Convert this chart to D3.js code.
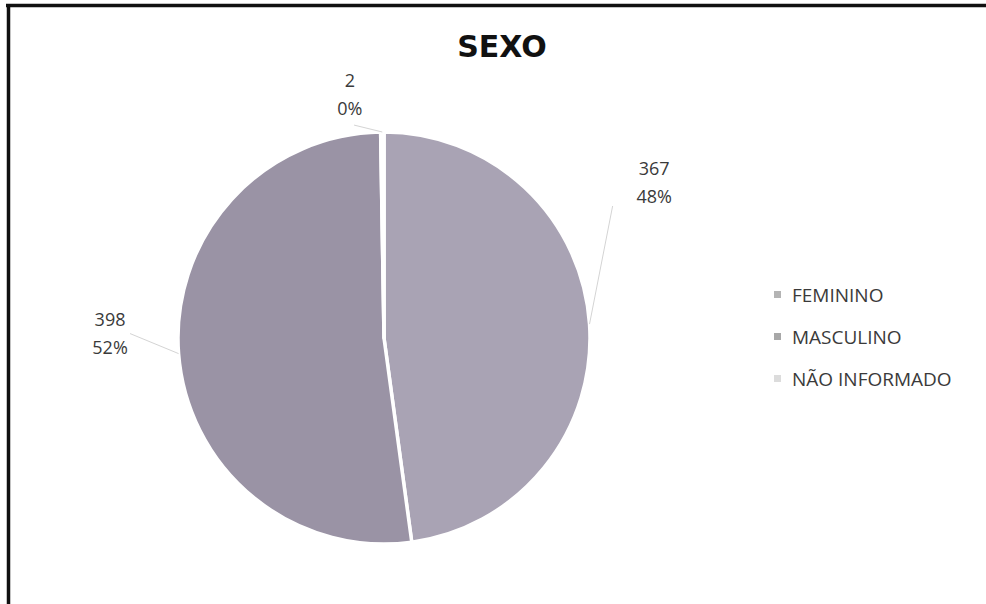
<!DOCTYPE html>
<html>
<head>
<meta charset="utf-8">
<script src="https://cdn.jsdelivr.net/npm/d3@7"></script>
<style>
  body { margin: 0; background: #fff; }
  svg { display: block; }
</style>
</head>
<body>
<script>
var width = 986;
var height = 604;

// data
var categories = ['FEMININO', 'MASCULINO', 'NÃO INFORMADO'];
var values = [367, 398, 2];
var percentLabels = ['48%', '52%', '0%'];

// colours
var sliceColors = ['#a9a3b4', '#9a93a5', '#e2e0e6'];
var legendColors = ['#b4b4b4', '#a8a8a8', '#dcdcdc'];

// label placement (polar, degrees clockwise from 12 o'clock)
var labelAngle = [60, 271, 352];
var labelRadius = [312, 274, 246];
var lineRadius = [264, 254, 215];

var cx = 384, cy = 338, radius = 206;

var svg = d3.select('body')
  .append('svg')
  .attr('width', width)
  .attr('height', height);

svg.append('rect')
  .attr('width', width)
  .attr('height', height)
  .attr('fill', '#fff');

// frame (top + left only)
svg.append('line')
  .attr('x1', 6).attr('y1', 5.5).attr('x2', width).attr('y2', 5.5)
  .attr('stroke', '#111').attr('stroke-width', 3.5);
svg.append('line')
  .attr('x1', 8.5).attr('y1', 4).attr('x2', 8.5).attr('y2', height)
  .attr('stroke', '#111').attr('stroke-width', 3.5);

// title
svg.append('text')
  .attr('x', 502)
  .attr('y', 57)
  .attr('text-anchor', 'middle')
  .style('font-family', '"DejaVu Sans", Verdana, sans-serif')
  .style('font-weight', 'bold')
  .style('font-size', '30px')
  .attr('fill', '#111')
  .text('SEXO');

var pie = d3.pie().sort(null).value(function(d) { return d; });
var arcs = pie(values);
var arc = d3.arc().innerRadius(0).outerRadius(radius);

var g = svg.append('g').attr('transform', 'translate(' + cx + ',' + cy + ')');

g.selectAll('path')
  .data(arcs)
  .enter()
  .append('path')
  .attr('d', arc)
  .attr('fill', function(d, i) { return sliceColors[i]; })
  .attr('stroke', '#fff')
  .attr('stroke-width', 3.5)
  .attr('stroke-linejoin', 'round');

function polar(deg, r) {
  var a = deg * Math.PI / 180;
  return [r * Math.sin(a), -r * Math.cos(a)];
}

function midDeg(d) { return (d.startAngle + d.endAngle) / 2 * 180 / Math.PI; }

// leader lines
g.selectAll('line.leader')
  .data(arcs)
  .enter()
  .append('line')
  .attr('class', 'leader')
  .attr('x1', function(d) { return polar(midDeg(d), radius)[0]; })
  .attr('y1', function(d) { return polar(midDeg(d), radius)[1]; })
  .attr('x2', function(d, i) { return polar(labelAngle[i], lineRadius[i])[0]; })
  .attr('y2', function(d, i) { return polar(labelAngle[i], lineRadius[i])[1]; })
  .attr('stroke', '#d4d4d4')
  .attr('stroke-width', 1);

// data labels
var labels = g.selectAll('text.dl')
  .data(arcs)
  .enter()
  .append('text')
  .attr('class', 'dl')
  .attr('text-anchor', 'middle')
  .style('font-family', '"Open Sans", sans-serif')
  .style('font-size', '18px')
  .attr('fill', '#3a3a3a');

labels.append('tspan')
  .attr('x', function(d, i) { return polar(labelAngle[i], labelRadius[i])[0]; })
  .attr('y', function(d, i) { return polar(labelAngle[i], labelRadius[i])[1] - 7; })
  .text(function(d) { return d.value; });
labels.append('tspan')
  .attr('x', function(d, i) { return polar(labelAngle[i], labelRadius[i])[0]; })
  .attr('y', function(d, i) { return polar(labelAngle[i], labelRadius[i])[1] + 21; })
  .text(function(d, i) { return percentLabels[i]; });

// legend
var legend = svg.append('g')
  .attr('transform', 'translate(774,302)');

var item = legend.selectAll('g')
  .data(categories)
  .enter()
  .append('g')
  .attr('transform', function(d, i) { return 'translate(0,' + i * 42 + ')'; });

item.append('rect')
  .attr('x', 0)
  .attr('y', -11)
  .attr('width', 7)
  .attr('height', 7)
  .attr('fill', function(d, i) { return legendColors[i]; });

item.append('text')
  .attr('x', 18)
  .attr('y', 0)
  .style('font-family', '"Open Sans", sans-serif')
  .style('font-size', '19px')
  .attr('fill', '#3a3a3a')
  .text(function(d) { return d; });
</script>
</body>
</html>
